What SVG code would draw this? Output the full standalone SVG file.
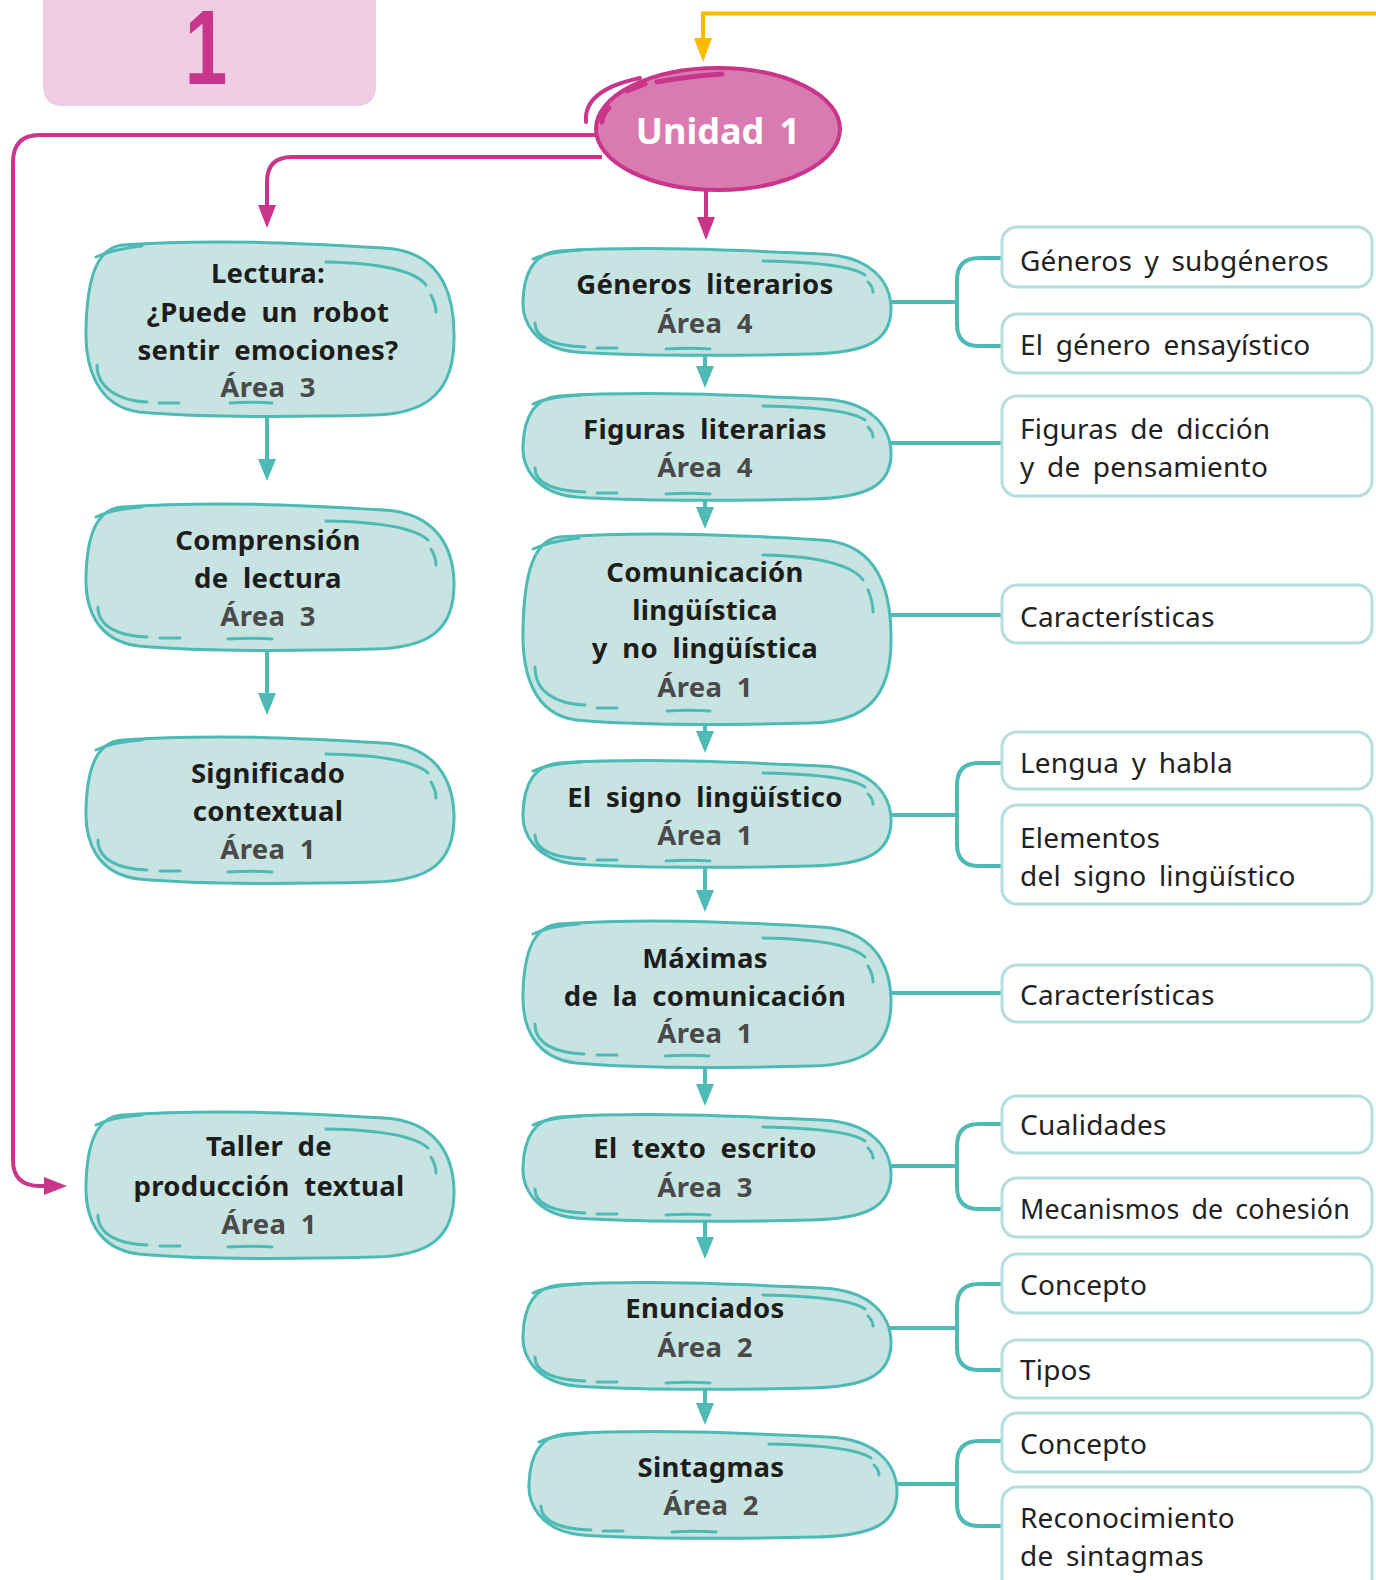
<svg xmlns="http://www.w3.org/2000/svg" xmlns:xlink="http://www.w3.org/1999/xlink" width="1376" height="1580" viewBox="0 0 1376 1580">
<style>
.bf{fill:#c8e4e2;stroke:#4dbab6;stroke-width:3}
.bd{fill:none;stroke:#4dbab6;stroke-width:3;stroke-linecap:round}
.t{font-family:"Noto Sans","Liberation Sans",sans-serif;font-weight:700;font-size:27.5px;fill:#1d1d1b;text-anchor:middle;word-spacing:7px;letter-spacing:0.3px}
.a{fill:#4a4a4a}
.r{font-family:"Noto Sans","Liberation Sans",sans-serif;font-size:28px;fill:#222;word-spacing:5px;letter-spacing:0.2px}
.box{fill:#fff;stroke:#b4dfdd;stroke-width:3}
.tl{fill:none;stroke:#4dbab6;stroke-width:4}
.pk{fill:none;stroke:#c9358b;stroke-width:4}
</style>
<defs>
<marker id="mt" markerUnits="userSpaceOnUse" markerWidth="22" markerHeight="18" refX="10" refY="9" orient="auto"><path d="M0,0 L22,9 L0,18 Z" fill="#4dbab6"/></marker>
<marker id="mp" markerUnits="userSpaceOnUse" markerWidth="23" markerHeight="18" refX="11" refY="9" orient="auto"><path d="M0,0 L23,9 L0,18 Z" fill="#c9358b"/></marker>
<marker id="my" markerUnits="userSpaceOnUse" markerWidth="24" markerHeight="18" refX="12" refY="9" orient="auto"><path d="M0,0 L24,9 L0,18 Z" fill="#fbb900"/></marker>
<g id="b108">
<path class="bf" d="M38,4 C140,-2 250,5 300,7 C352,9 369,36 370,60 C371,94 345,106 290,107 C210,109 110,109 55,105 C12,101 1,72 2,54 C3,24 14,6 38,4 Z"/>
<path class="bd" d="M12,12 C25,6 40,4 60,3"/>
<path class="bd" d="M242,14 C300,15 332,20 344,28"/>
<path class="bd" d="M347,35 C350,38 352,41 352,45"/>
<path class="bd" d="M14,76 C14,92 35,99 64,100"/>
<path class="bd" d="M76,101 H96"/>
<path class="bd" d="M145,102 C160,101 175,101 189,102"/>
</g>
<g id="b148">
<path class="bf" d="M38,5 C140,-2 250,5 300,8 C352,11 369,45 370,80 C371,128 345,146 290,147 C210,149 110,149 55,144 C12,139 1,105 2,75 C3,30 14,7 38,5 Z"/>
<path class="bd" d="M12,15 C25,9 40,6 58,5"/>
<path class="bd" d="M242,19 C300,20 332,27 344,38"/>
<path class="bd" d="M347,47 C350,52 352,57 352,63"/>
<path class="bd" d="M14,105 C14,125 35,134 63,135"/>
<path class="bd" d="M76,136 H96"/>
<path class="bd" d="M144,137 C160,136 175,136 188,137"/>
</g>
<g id="b176">
<path class="bf" d="M38,5 C140,-2 250,5 300,8 C355,11 370,50 370,95 C371,150 345,174 290,175 C210,177 110,177 55,172 C12,166 1,125 2,90 C3,35 14,8 38,5 Z"/>
<path class="bd" d="M12,17 C25,11 40,8 58,6"/>
<path class="bd" d="M242,22 C300,23 332,32 342,45"/>
<path class="bd" d="M347,55 C350,61 352,66 352,72"/>
<path class="bd" d="M13,125 C13,148 35,161 63,162"/>
<path class="bd" d="M75,163 H95"/>
<path class="bd" d="M146,163 C160,162 175,162 188,163"/>
</g>
<g id="b192">
<path class="bf" d="M38,5 C140,-2 250,5 300,8 C355,11 370,55 370,105 C371,165 345,190 290,191 C210,193 110,193 55,188 C12,182 1,140 2,98 C3,38 14,8 38,5 Z"/>
<path class="bd" d="M12,17 C25,11 40,8 58,6"/>
<path class="bd" d="M242,23 C300,24 332,34 342,48"/>
<path class="bd" d="M347,58 C350,65 352,72 352,80"/>
<path class="bd" d="M14,135 C14,160 35,172 64,173"/>
<path class="bd" d="M76,176 H96"/>
<path class="bd" d="M146,179 C160,178 175,178 189,179"/>
</g>
</defs>
<rect width="1376" height="1580" fill="#fff"/>

<g id="tab">
<path d="M43,0 H376 V86 Q376,106 356,106 H63 Q43,106 43,86 Z" fill="#eecce3"/>
<text x="0" y="0" transform="translate(206,84) scale(0.72,1)" font-family="Liberation Sans, Arial, sans-serif" font-weight="700" font-size="106" fill="#c9358b" text-anchor="middle">1</text>
</g>

<g id="connectors">
<path d="M1376,13.5 H703 V50" fill="none" stroke="#fbb900" stroke-width="4" marker-end="url(#my)"/>
<path class="pk" d="M598,135 H40 Q13,135 13,162 V1160 Q13,1186 40,1186 H55" marker-end="url(#mp)"/>
<path class="pk" d="M602,157 H292 Q267,157 267,182 V216" marker-end="url(#mp)"/>
<path class="pk" d="M706,190 V228" marker-end="url(#mp)"/>
<path class="tl" d="M267,416 V469" marker-end="url(#mt)"/>
<path class="tl" d="M267,650 V703" marker-end="url(#mt)"/>
<path class="tl" d="M705,355 V376" marker-end="url(#mt)"/>
<path class="tl" d="M705,499 V517" marker-end="url(#mt)"/>
<path class="tl" d="M705,723 V741" marker-end="url(#mt)"/>
<path class="tl" d="M705,866 V900" marker-end="url(#mt)"/>
<path class="tl" d="M705,1067 V1094" marker-end="url(#mt)"/>
<path class="tl" d="M705,1221 V1247" marker-end="url(#mt)"/>
<path class="tl" d="M705,1388 V1413" marker-end="url(#mt)"/>
<path class="tl" d="M887,302 H957 M1002,258 H979 Q957,258 957,280 V324 Q957,346 979,346 H1002"/>
<path class="tl" d="M887,443 H1002"/>
<path class="tl" d="M887,615 H1002"/>
<path class="tl" d="M887,815 H957 M1002,763 H979 Q957,763 957,785 V844 Q957,866 979,866 H1002"/>
<path class="tl" d="M887,993 H1002"/>
<path class="tl" d="M887,1166 H957 M1002,1124 H979 Q957,1124 957,1146 V1187 Q957,1209 979,1209 H1002"/>
<path class="tl" d="M887,1328 H957 M1002,1284 H979 Q957,1284 957,1306 V1348 Q957,1370 979,1370 H1002"/>
<path class="tl" d="M893,1484 H957 M1002,1441 H979 Q957,1441 957,1463 V1504 Q957,1526 979,1526 H1002"/>
</g>

<g id="unidad1">
<ellipse cx="718" cy="129" rx="122" ry="61" fill="#d97bb0" stroke="#c9358b" stroke-width="4"/>
<path d="M586,122 C584,100 602,86 640,78" fill="none" stroke="#c9358b" stroke-width="4" stroke-linecap="round"/>
<path d="M627,91 L645,84 M657,82 Q690,76 722,74 M609,108 Q603,113 602,122" fill="none" stroke="#c9358b" stroke-width="5" stroke-linecap="round"/>
<text x="718" y="144" font-family="Noto Sans, Liberation Sans, sans-serif" font-weight="700" font-size="36" fill="#fff" text-anchor="middle" word-spacing="6">Unidad 1</text>
</g>

<g id="lectura">
<use href="#b176" x="84" y="240"/>
<text class="t" x="268" y="283">Lectura:</text>
<text class="t" x="268" y="322">¿Puede un robot</text>
<text class="t" x="268" y="360">sentir emociones?</text>
<text class="t a" x="268" y="397">Área 3</text>
</g>
<g id="comprension">
<use href="#b148" x="84" y="502"/>
<text class="t" x="268" y="550">Comprensión</text>
<text class="t" x="268" y="588">de lectura</text>
<text class="t a" x="268" y="626">Área 3</text>
</g>
<g id="significado">
<use href="#b148" x="84" y="735"/>
<text class="t" x="268" y="783">Significado</text>
<text class="t" x="268" y="821">contextual</text>
<text class="t a" x="268" y="859">Área 1</text>
</g>
<g id="taller">
<use href="#b148" x="84" y="1110"/>
<text class="t" x="269" y="1156">Taller de</text>
<text class="t" x="269" y="1196">producción textual</text>
<text class="t a" x="269" y="1234">Área 1</text>
</g>

<g id="generos">
<use href="#b108" x="521" y="247"/>
<text class="t" x="705" y="294">Géneros literarios</text>
<text class="t a" x="705" y="333">Área 4</text>
</g>
<g id="figuras">
<use href="#b108" x="521" y="392"/>
<text class="t" x="705" y="439">Figuras literarias</text>
<text class="t a" x="705" y="477">Área 4</text>
</g>
<g id="comunicacion">
<use href="#b192" x="521" y="532"/>
<text class="t" x="705" y="582">Comunicación</text>
<text class="t" x="705" y="620">lingüística</text>
<text class="t" x="705" y="658">y no lingüística</text>
<text class="t a" x="705" y="697">Área 1</text>
</g>
<g id="signo">
<use href="#b108" x="521" y="759"/>
<text class="t" x="705" y="807">El signo lingüístico</text>
<text class="t a" x="705" y="845">Área 1</text>
</g>
<g id="maximas">
<use href="#b148" x="521" y="919"/>
<text class="t" x="705" y="968">Máximas</text>
<text class="t" x="705" y="1006">de la comunicación</text>
<text class="t a" x="705" y="1043">Área 1</text>
</g>
<g id="texto">
<use href="#b108" x="521" y="1113"/>
<text class="t" x="705" y="1158">El texto escrito</text>
<text class="t a" x="705" y="1197">Área 3</text>
</g>
<g id="enunciados">
<use href="#b108" x="521" y="1281"/>
<text class="t" x="705" y="1318">Enunciados</text>
<text class="t a" x="705" y="1357">Área 2</text>
</g>
<g id="sintagmas">
<use href="#b108" x="527" y="1430"/>
<text class="t" x="711" y="1477">Sintagmas</text>
<text class="t a" x="711" y="1515">Área 2</text>
</g>

<g id="r-generos-sub"><rect class="box" x="1002" y="227" width="370" height="60" rx="15"/><text class="r" x="1020" y="271">Géneros y subgéneros</text></g>
<g id="r-ensayistico"><rect class="box" x="1002" y="314" width="370" height="59" rx="15"/><text class="r" x="1020" y="355">El género ensayístico</text></g>
<g id="r-figuras"><rect class="box" x="1002" y="396" width="370" height="100" rx="15"/><text class="r" x="1020" y="439">Figuras de dicción</text><text class="r" x="1020" y="477">y de pensamiento</text></g>
<g id="r-caract1"><rect class="box" x="1002" y="585" width="370" height="58" rx="15"/><text class="r" x="1020" y="627">Características</text></g>
<g id="r-lengua"><rect class="box" x="1002" y="732" width="370" height="57" rx="15"/><text class="r" x="1020" y="773">Lengua y habla</text></g>
<g id="r-elementos"><rect class="box" x="1002" y="805" width="370" height="99" rx="15"/><text class="r" x="1020" y="848">Elementos</text><text class="r" x="1020" y="886">del signo lingüístico</text></g>
<g id="r-caract2"><rect class="box" x="1002" y="965" width="370" height="57" rx="15"/><text class="r" x="1020" y="1005">Características</text></g>
<g id="r-cualidades"><rect class="box" x="1002" y="1096" width="370" height="57" rx="15"/><text class="r" x="1020" y="1135">Cualidades</text></g>
<g id="r-mecanismos"><rect class="box" x="1002" y="1178" width="370" height="59" rx="15"/><text class="r" x="1020" y="1219" textLength="330" lengthAdjust="spacingAndGlyphs">Mecanismos de cohesión</text></g>
<g id="r-concepto1"><rect class="box" x="1002" y="1254" width="370" height="59" rx="15"/><text class="r" x="1020" y="1295">Concepto</text></g>
<g id="r-tipos"><rect class="box" x="1002" y="1340" width="370" height="58" rx="15"/><text class="r" x="1020" y="1380">Tipos</text></g>
<g id="r-concepto2"><rect class="box" x="1002" y="1413" width="370" height="59" rx="15"/><text class="r" x="1020" y="1454">Concepto</text></g>
<g id="r-reconocimiento"><rect class="box" x="1002" y="1487" width="370" height="110" rx="15"/><text class="r" x="1020" y="1528">Reconocimiento</text><text class="r" x="1020" y="1566">de sintagmas</text></g>
</svg>
